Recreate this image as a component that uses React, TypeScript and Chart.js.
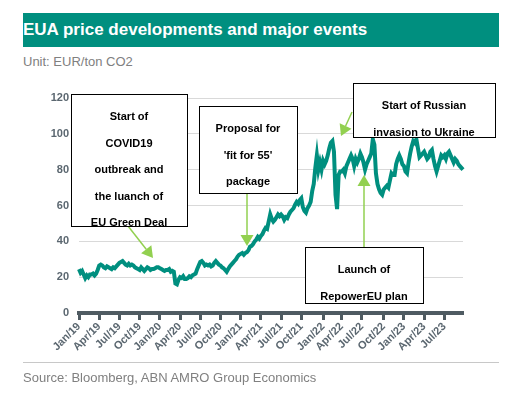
import React, { useEffect, useRef } from 'react';
import { Chart, registerables } from 'chart.js';

Chart.register(...registerables);

// Weekly EUA prices (Fridays) starting 2019-01-04, EUR/ton CO2
const START_DATE = '2019-01-04';
const price2019: number[] = [
  24.5, 22.5, 23.5, 21.5, // Jan
  19.5, 21, 20, 21.5, // Feb
  21.5, 22, 21, 22, 24, // Mar
  26.5, 27, 26.5, 25.5, // Apr
  25, 26, 25.5, 25, 24.5, // May
  25.5, 25, 26, 27, // Jun
  28, 28.5, 29, 28, // Jul
  27, 26.5, 27.5, 26.5, 27, // Aug
  26.5, 25.5, 25, 24.5, // Sep
  24, 25.5, 24.5, 23.5, // Oct
  24.5, 25.5, 25, 24, 24.5, // Nov
  24.5, 25, 25.5, 25.5, // Dec
];
const price2020: number[] = [
  25, 24.5, 24, 23.5, 24,
  24, 24.5, 23, 23.5,
  23, 16.5, 16, 18.5,
  20, 19.5, 20.5, 19,
  19, 19.5, 20.5, 20, 21,
  21.5, 22, 24.5, 26.5,
  28.5, 29, 28, 26.5, 27,
  26.5, 27, 26, 26.5,
  28, 29, 28, 27,
  26.5, 25.5, 25, 24, 23,
  24.5, 26, 27, 28,
  29, 30, 31.5, 32.5,
];
const price2021: number[] = [
  33, 33.5, 32.5, 33.5, 34,
  35, 37, 37.5, 38.5,
  40, 41, 42.5, 41.5,
  43, 44, 46, 47.5, 47,
  51, 55, 52.5, 51,
  52, 53.5, 55, 54,
  55, 54, 52, 53.5, 53,
  55, 56.5, 57.5, 58.5,
  60.5, 62, 61, 63,
  64, 59, 57, 56, 58.5,
  60, 62, 68, 72,
  81, 88, 80, 84, 80,
];
const price2022: number[] = [
  85, 83, 85, 88,
  92, 95, 96, 90,
  66, 58, 77, 79,
  79, 80, 78, 82, 84,
  86, 88, 86, 82,
  86, 84, 86, 89,
  87, 84, 80, 83, 85,
  87, 89, 97, 94,
  78, 72, 69, 67, 66,
  69, 70, 71, 70,
  74, 78, 77, 77,
  83, 86, 88, 86, 83,
];
const price2023: number[] = [
  82, 79, 78, 84,
  89, 93, 96, 95,
  97, 92, 87, 88, 89,
  90, 88, 86, 87,
  90, 91, 86, 82,
  79, 82, 85, 88, 87,
  88, 86, 89, 90,
  88, 86, 84, 86,
  85, 83, 82, 81, 80,
];
const priceValues: number[] = [...price2019, ...price2020, ...price2021, ...price2022, ...price2023];

const MONTH_NAMES = ['Jan', 'Feb', 'Mar', 'Apr', 'May', 'Jun', 'Jul', 'Aug', 'Sep', 'Oct', 'Nov', 'Dec'];
const QUARTER_MONTHS = [0, 3, 6, 9];
const Y_TICKS = { min: 0, max: 120, step: 20 };

const weekLabels: string[] = priceValues.map((_, i) => {
  const d = new Date(START_DATE + 'T00:00:00Z');
  d.setUTCDate(d.getUTCDate() + 7 * i);
  return d.toISOString().slice(0, 10);
});

const monthOf = (s: string) => parseInt(s.slice(5, 7), 10) - 1;
const quarterTickIdx: number[] = weekLabels
  .map((s, i) => ({ s, i }))
  .filter(({ s, i }) => QUARTER_MONTHS.includes(monthOf(s)) && (i === 0 || monthOf(weekLabels[i - 1]) !== monthOf(s)))
  .map(({ i }) => i);

const fmtLabel = (s: string) => `${MONTH_NAMES[monthOf(s)]}/${s.slice(2, 4)}`;

// Annotation call-outs (layout in canvas pixels)
const annotationBoxes = [
  { x: 71, y: 94, w: 116, h: 132, lines: ['Start of', 'COVID19', 'outbreak and', 'the luanch of', 'EU Green Deal'] },
  { x: 199, y: 106, w: 98, h: 87, lines: ['Proposal for', "'fit for 55'", 'package'] },
  { x: 353, y: 83, w: 142, h: 54, lines: ['Start of Russian', 'invasion to Ukraine'] },
  { x: 305, y: 247, w: 118, h: 56, lines: ['Launch of', 'RepowerEU plan'] },
];
const annotationArrows = [
  { from: [128, 226], to: [153, 258] },
  { from: [247, 193], to: [247, 246] },
  { from: [352, 112], to: [341, 136] },
  { from: [364, 247], to: [364, 175] },
];

const FONT = "'Liberation Sans', Arial, Helvetica, sans-serif";
const TEAL = '#008f7f';
const AXIS_TEXT = '#5b6770';

const annotationPlugin = {
  id: 'callouts',
  afterDatasetsDraw(chart: any) {
    const ctx: CanvasRenderingContext2D = chart.ctx;
    ctx.save();
    // arrows
    ctx.strokeStyle = '#92d050';
    ctx.fillStyle = '#92d050';
    ctx.lineWidth = 1.5;
    for (const a of annotationArrows) {
      const [x1, y1] = a.from;
      const [x2, y2] = a.to;
      const ang = Math.atan2(y2 - y1, x2 - x1);
      const hl = 11;
      const hw = 6.5;
      const bx = x2 - hl * Math.cos(ang);
      const by = y2 - hl * Math.sin(ang);
      ctx.beginPath();
      ctx.moveTo(x1, y1);
      ctx.lineTo(bx, by);
      ctx.stroke();
      ctx.beginPath();
      ctx.moveTo(x2, y2);
      ctx.lineTo(bx + hw * Math.sin(ang), by - hw * Math.cos(ang));
      ctx.lineTo(bx - hw * Math.sin(ang), by + hw * Math.cos(ang));
      ctx.closePath();
      ctx.fill();
    }
    // boxes
    for (const b of annotationBoxes) {
      ctx.fillStyle = '#ffffff';
      ctx.fillRect(b.x, b.y, b.w, b.h);
      ctx.save();
      ctx.beginPath();
      ctx.rect(b.x, b.y, b.w, b.h);
      ctx.clip();
      ctx.fillStyle = '#000000';
      ctx.font = `bold 11px ${FONT}`;
      ctx.textAlign = 'center';
      ctx.textBaseline = 'middle';
      b.lines.forEach((t, i) => {
        ctx.fillText(t, b.x + b.w / 2, b.y + 23 + i * 26.5);
      });
      ctx.restore();
      ctx.strokeStyle = '#000000';
      ctx.lineWidth = 1;
      ctx.strokeRect(b.x + 0.5, b.y + 0.5, b.w, b.h);
    }
    ctx.restore();
  },
};

function EuaChart() {
  const ref = useRef<HTMLCanvasElement | null>(null);
  useEffect(() => {
    if (!ref.current) return;
    const chart = new Chart(ref.current, {
      type: 'line',
      data: {
        labels: weekLabels,
        datasets: [
          {
            label: 'EUA price',
            data: priceValues,
            borderColor: TEAL,
            borderWidth: 4,
            pointRadius: 0,
            tension: 0,
            fill: false,
          },
        ],
      },
      options: {
        animation: false,
        responsive: false,
        maintainAspectRatio: false,
        events: [],
        layout: { padding: { top: 98, right: 51, bottom: 0, left: 0 } },
        plugins: { legend: { display: false }, tooltip: { enabled: false }, title: { display: false } },
        scales: {
          x: {
            type: 'category',
            offset: false,
            afterBuildTicks: (scale: any) => {
              scale.ticks = quarterTickIdx.map((v) => ({ value: v }));
            },
            afterFit: (scale: any) => {
              scale.height = 81;
            },
            grid: {
              display: true,
              drawOnChartArea: false,
              drawTicks: true,
              tickLength: 7,
              tickWidth: 3,
              tickColor: '#4f5b62',
            },
            border: { display: true, color: '#4f5b62', width: 4 },
            ticks: {
              autoSkip: false,
              minRotation: 45,
              maxRotation: 45,
              padding: 0,
              color: AXIS_TEXT,
              font: { family: FONT, size: 11, weight: 'bold' },
              callback: (value: any) => fmtLabel(weekLabels[value as number]),
            },
          },
          y: {
            min: Y_TICKS.min,
            max: Y_TICKS.max,
            afterFit: (scale: any) => {
              scale.width = 79;
            },
            grid: { color: '#d9d9d9', lineWidth: 1, drawTicks: false },
            border: { display: false },
            ticks: {
              stepSize: Y_TICKS.step,
              padding: 10,
              color: AXIS_TEXT,
              font: { family: FONT, size: 11, weight: 'bold' },
            },
          },
        },
      },
      plugins: [annotationPlugin],
    } as any);
    return () => chart.destroy();
  }, []);
  return <canvas ref={ref} width={514} height={394} style={{ position: 'absolute', left: 0, top: 0, width: 514, height: 394 }} />;
}

export default function App() {
  return (
    <div style={{ position: 'fixed', left: 0, top: 0, width: 514, height: 394, background: '#ffffff', fontFamily: FONT, overflow: 'hidden' }}>
      <div
        style={{
          position: 'absolute',
          left: 23,
          top: 13,
          width: 476,
          height: 34,
          background: TEAL,
          color: '#ffffff',
          fontWeight: 'bold',
          fontSize: 17,
          lineHeight: '34px',
          whiteSpace: 'nowrap',
        }}
      >
        EUA price developments and major events
      </div>
      <div style={{ position: 'absolute', left: 23, top: 53, fontSize: 13, color: '#808080', lineHeight: '18px' }}>
        Unit: EUR/ton CO2
      </div>
      <EuaChart />
      <div style={{ position: 'absolute', left: 23, top: 362, width: 476, height: 1, background: '#c8c8c8' }} />
      <div style={{ position: 'absolute', left: 23, top: 369, fontSize: 13, color: '#808080', lineHeight: '18px', whiteSpace: 'nowrap' }}>
        Source: Bloomberg, ABN AMRO Group Economics
      </div>
    </div>
  );
}
